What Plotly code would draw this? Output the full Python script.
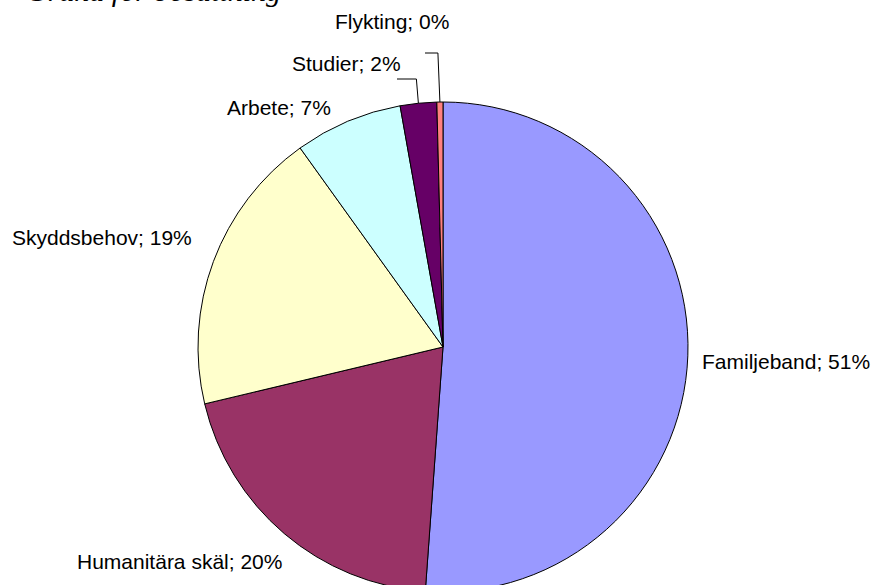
import math
import plotly.graph_objects as go

# data (share of total, %)
categories = ["Familjeband", "Humanitära skäl", "Skyddsbehov", "Arbete", "Studier", "Flykting"]
shares = [51.1, 20.1, 18.8, 7.1, 2.4, 0.4]
colors = ["#9999FF", "#993366", "#FFFFCC", "#CCFFFF", "#660066", "#FF8080"]
title_text = "Grund för bosättning"

W, H = 872, 640
CX, CY, R = 443, 347, 245


def px(x, y):
    # pixel position (from top-left) -> paper coordinates
    return x / W, 1 - y / H


fig = go.Figure(go.Pie(
    labels=categories,
    values=shares,
    sort=False,
    direction="clockwise",
    rotation=0,
    textinfo="none",
    hoverinfo="label+percent",
    marker=dict(colors=colors, line=dict(color="black", width=1)),
    domain=dict(x=[(CX - R) / W, (CX + R) / W],
                y=[1 - (CY + R) / H, 1 - (CY - R) / H]),
    showlegend=False,
))

# label spots (left edge, vertical middle) in pixels
label_pos = [(700, 361), (75, 561), (10, 237), (225, 107), (290, 64), (333, 21)]
total = sum(shares)
annotations = []
for name, val, (lx, ly) in zip(categories, shares, label_pos):
    ax, ay = px(lx, ly)
    annotations.append(dict(
        x=ax, y=ay, xref="paper", yref="paper", xanchor="left", yanchor="middle",
        text=f"{name}; {val / total * 100:.0f}%", showarrow=False,
        font=dict(family="Liberation Sans, Arial", size=21, color="black")))

# the title sits mostly above the top edge in the reference
tx, ty = px(24, -9)
annotations.append(dict(
    x=tx, y=ty, xref="paper", yref="paper", xanchor="left", yanchor="middle",
    text=f"<i>{title_text}</i>", showarrow=False,
    font=dict(family="Liberation Serif, Times New Roman", size=30, color="black")))

# leader lines for the two thin slices
shapes = []
start = 0.0
mids = []
for val in shares:
    mids.append(start + val / total * 360 / 2)
    start += val / total * 360
leaders = {4: (397, 79), 5: (425, 53)}
for i, (hx, hy) in leaders.items():
    ang = math.radians(mids[i])
    ex = CX + R * math.sin(ang)
    ey = CY - R * math.cos(ang)
    p1 = px(hx, hy)
    p2 = px(ex - 2, hy)
    p3 = px(ex, ey)
    shapes.append(dict(
        type="path", xref="paper", yref="paper",
        path=f"M {p1[0]} {p1[1]} L {p2[0]} {p2[1]} L {p3[0]} {p3[1]}",
        line=dict(color="black", width=1)))

fig.update_layout(
    width=W, height=H,
    margin=dict(l=0, r=0, t=0, b=0),
    paper_bgcolor="white",
    plot_bgcolor="white",
    annotations=annotations,
    shapes=shapes,
)

# page body has an 8px default margin; drop it so the figure sits at the corner
fig.write_html("out.html", config={"displayModeBar": False},
               post_script="document.body.style.margin = '0';")
